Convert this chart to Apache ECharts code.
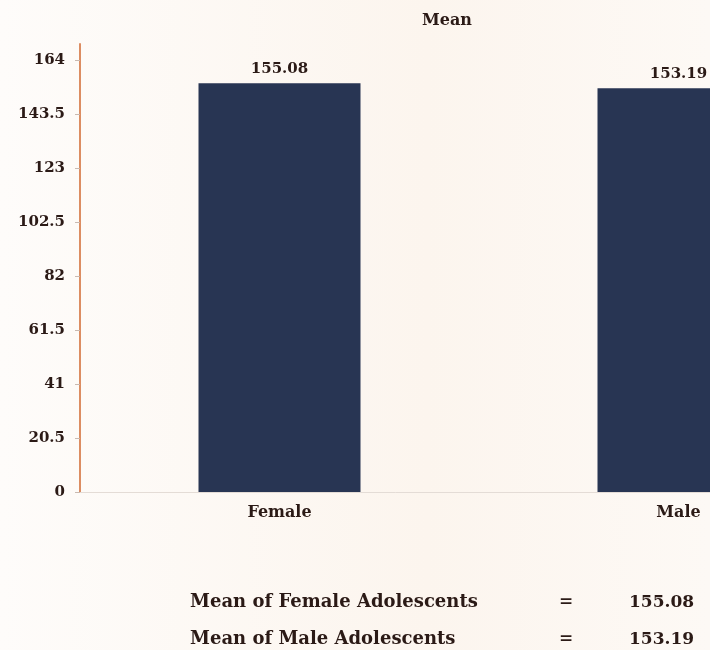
<!DOCTYPE html>
<html>
<head>
<meta charset="utf-8">
<script src="https://cdn.jsdelivr.net/npm/echarts@6/dist/echarts.min.js"></script>
<style>
  html, body { margin: 0; padding: 0; background: #fdfaf6; }
  #chart { width: 710px; height: 650px; }
</style>
</head>
<body>
<div id="chart"></div>
<script>
// Mean height by group
const categories = ['Female', 'Male'];
const meanValues = [155.08, 153.19];
const yTickValues = [0, 20.5, 41, 61.5, 82, 102.5, 123, 143.5, 164];
const summaryLabels = ['Mean of Female Adolescents', 'Mean of Male Adolescents'];

const textColor = '#2b1a16';
const serif = '"DejaVu Serif", "Liberation Serif", serif';

const chart = echarts.init(document.getElementById('chart'));

const summaryGraphics = [];
summaryLabels.forEach(function (label, i) {
  const y = 593 + i * 37;
  summaryGraphics.push(
    { type: 'text', left: 190, top: y, style: { text: label, font: 'bold 18px ' + serif, fill: textColor } },
    { type: 'text', left: 559, top: y, style: { text: '=', font: 'bold 17px ' + serif, fill: textColor } },
    { type: 'text', left: 629, top: y + 1, style: { text: meanValues[i].toFixed(2), font: 'bold 17px ' + serif, fill: textColor } }
  );
});

chart.setOption({
  backgroundColor: {
    type: 'linear', x: 0, y: 0, x2: 1, y2: 0,
    colorStops: [
      { offset: 0, color: '#fefcfa' },
      { offset: 0.6, color: '#fcf5ee' },
      { offset: 1, color: '#fdf9f5' }
    ]
  },
  title: {
    text: 'Mean',
    left: 417,
    top: 8,
    textStyle: { fontFamily: serif, fontWeight: 'bold', fontSize: 16, color: textColor }
  },
  grid: {
    left: 80, width: 798, top: 44, height: 448,
    containLabel: false,
    outerBoundsMode: 'none'
  },
  xAxis: {
    type: 'category',
    data: categories,
    axisLine: { lineStyle: { color: '#e4dcd6', width: 1 } },
    axisTick: { show: false },
    axisLabel: {
      margin: 13,
      fontFamily: serif, fontWeight: 'bold', fontSize: 16, color: textColor
    }
  },
  yAxis: {
    type: 'value',
    min: 0,
    max: 170,
    splitLine: { show: false },
    axisLine: { show: true, lineStyle: { color: '#dc8d62', width: 2 } },
    axisTick: {
      show: true, length: 5, customValues: yTickValues,
      lineStyle: { color: '#c9b9b0' }
    },
    axisLabel: {
      customValues: yTickValues,
      margin: 15,
      fontFamily: serif, fontWeight: 'bold', fontSize: 15, color: textColor
    }
  },
  series: [{
    type: 'bar',
    data: meanValues,
    barWidth: 162,
    itemStyle: { color: '#283553' },
    label: {
      show: true,
      position: 'top',
      distance: 7,
      formatter: function (p) { return p.value.toFixed(2); },
      fontFamily: serif, fontWeight: 'bold', fontSize: 15, color: textColor
    }
  }],
  graphic: summaryGraphics,
  animation: false
});
</script>
</body>
</html>
